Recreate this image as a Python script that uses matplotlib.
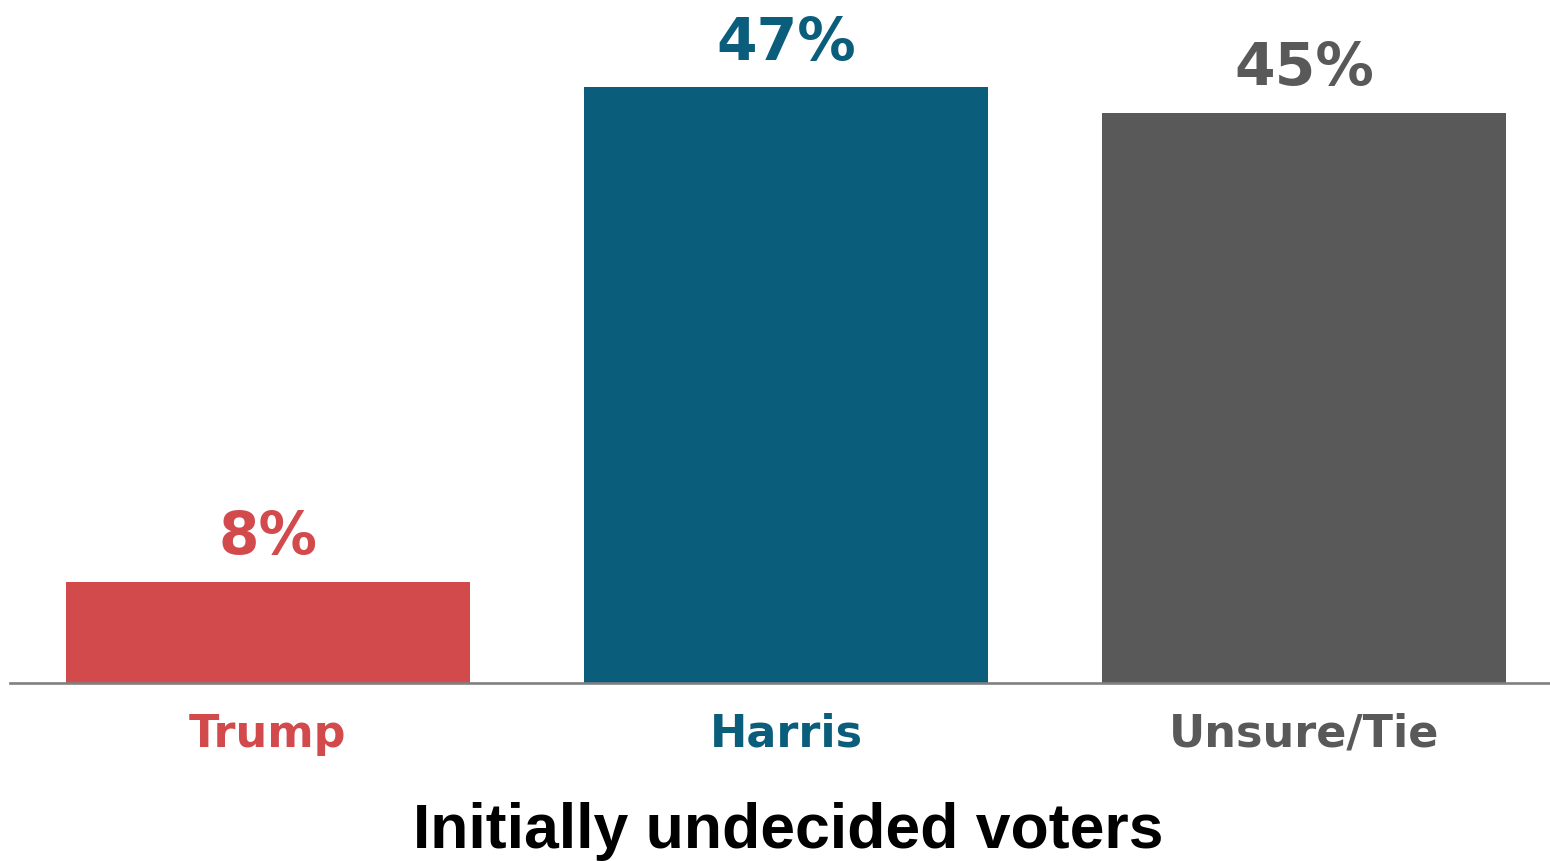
import matplotlib
matplotlib.use('Agg')
import matplotlib.pyplot as plt
import numpy as np

# data
categories = ['Trump', 'Harris', 'Unsure/Tie']
values = [8, 47, 45]
colors = ['#D34A4C', '#0B5E7B', '#595959']
title = 'Initially undecided voters'

fig = plt.figure(figsize=(15.5, 8.61), dpi=100)
ax = fig.add_axes([10 / 1550, 178 / 861, 1540 / 1550, 683 / 861])

x = np.arange(len(categories))
ax.bar(x, values, width=0.78, color=colors)

for xi, v, c, name in zip(x, values, colors, categories):
    ax.annotate(f'{v}%', xy=(xi, v), xytext=(0, 20), textcoords='offset points',
                ha='center', va='baseline', fontsize=42, fontweight='bold',
                color=c, family='DejaVu Sans')
    ax.annotate(name, xy=(xi, 0), xytext=(0, -46), textcoords='offset points',
                ha='center', va='baseline', fontsize=32, fontweight='bold',
                color=c, family='DejaVu Sans')

ax.set_xlim(-0.498, 2.475)
ax.set_ylim(0, 53.9)
for side in ['top', 'right', 'left']:
    ax.spines[side].set_visible(False)
ax.spines['bottom'].set_color('#808080')
ax.spines['bottom'].set_linewidth(1.9)
ax.set_xticks([])
ax.set_yticks([])

fig.text(788 / 1550, 13 / 861, title, ha='center', va='baseline',
         fontsize=45, fontweight='bold', family='Liberation Sans', color='black')

fig.savefig('out.png', dpi=100)
